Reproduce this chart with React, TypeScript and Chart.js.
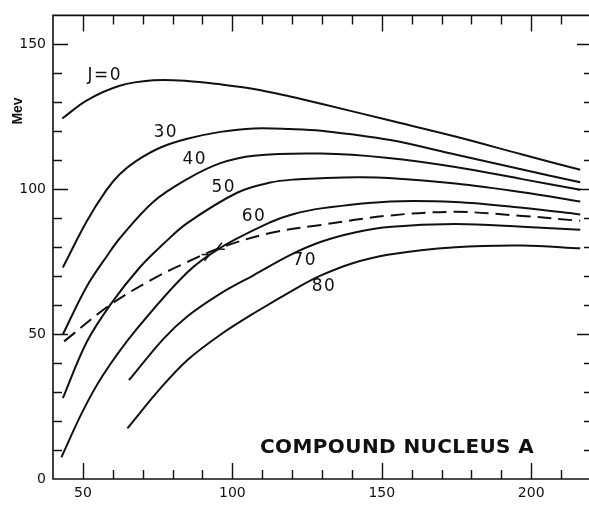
import React, { useEffect, useRef } from 'react';
import { Chart, registerables } from 'chart.js';

Chart.register(...registerables);

// Axis tick labels
const xTickLabels = [50, 100, 150, 200];
const yTickLabels = [0, 50, 100, 150];

// Curves: compound nucleus A (x) vs energy in Mev (y)
const j0A = [43.1, 51.2, 62.3, 73.5, 84.9, 96, 107.2, 119.3, 129.7, 152.8, 174.6, 197, 216.4];
const j0E = [124.4, 130.6, 135.7, 137.6, 137.4, 136.2, 134.6, 132.0, 129.5, 123.7, 118.2, 112.0, 106.7];

const j30A = [43.3, 51.2, 57.8, 62.3, 67.9, 76, 84.9, 96, 107.2, 119.3, 129.7, 152.8, 174.6, 197, 216.4];
const j30E = [73.0, 88.8, 99.6, 105.2, 109.8, 114.4, 117.4, 119.8, 121.0, 120.8, 120.2, 117.0, 112.0, 106.8, 102.4];

const j40A = [43.3, 51.2, 58.4, 62.3, 73.5, 84.9, 96, 107.2, 129.7, 152.2, 174.6, 197, 216.4];
const j40E = [49.9, 66.3, 77.5, 83.0, 95.6, 103.5, 109.0, 111.6, 112.3, 110.8, 107.7, 103.5, 99.8];

const j50A = [43.3, 51.2, 59.5, 69, 76.8, 84.9, 101.6, 112.7, 121, 129.7, 141.7, 152.2, 174.6, 197, 216.4];
const j50E = [27.9, 47.1, 60.6, 73.0, 81.0, 88.3, 98.8, 102.3, 103.4, 103.8, 104.1, 103.9, 102.0, 99.0, 95.8];

const j60A = [42.8, 50, 56.7, 67.9, 84.9, 96, 112.7, 120, 129.7, 152.8, 174.6, 197, 216.4];
const j60E = [7.5, 23.5, 35.8, 51.6, 71.3, 79.8, 88.6, 91.3, 93.4, 95.8, 95.6, 93.6, 91.3];

const dashA = [43.7, 59, 73.5, 83.5, 96, 112.7, 129.7, 152.2, 174.6, 197, 216.4];
const dashE = [47.5, 60.0, 69.1, 74.2, 79.8, 84.9, 87.7, 90.9, 92.2, 90.8, 89.1];

const j70A = [65.4, 76.8, 84.9, 96, 107.2, 119.3, 129.7, 141, 152.2, 174.6, 197, 216.4];
const j70E = [34.1, 48.2, 56.1, 64.0, 70.4, 77.3, 81.9, 85.1, 87.0, 88.0, 87.1, 86.0];

const j80A = [64.9, 75.7, 84.9, 96, 107.2, 122.7, 129.7, 140, 152, 174.6, 197, 216.4];
const j80E = [17.5, 31.0, 41.0, 49.8, 57.2, 66.6, 70.3, 74.4, 77.4, 80.0, 80.6, 79.6];

// Curve labels (anchored in data units)
const curveLabelText = ['J=0', '30', '40', '50', '60', '70', '80'];
const curveLabelA = [57.1, 77.5, 87.2, 96.9, 107.0, 124.0, 130.4];
const curveLabelE = [139.2, 119.5, 110.1, 100.6, 90.4, 75.5, 66.4];

// Arrow tips near the dashed / J=60 crossing (data units) and direction (deg)
const arrowA = [92.4, 94.8];
const arrowE = [77.4, 79.4];
const arrowDir = [-24, 156];

const INK = '#111111';

const series = [
  { name: 'J=0', a: j0A, e: j0E, dash: [] as number[] },
  { name: '30', a: j30A, e: j30E, dash: [] as number[] },
  { name: '40', a: j40A, e: j40E, dash: [] as number[] },
  { name: '50', a: j50A, e: j50E, dash: [] as number[] },
  { name: '60', a: j60A, e: j60E, dash: [] as number[] },
  { name: 'dashed', a: dashA, e: dashE, dash: [14, 7] },
  { name: '70', a: j70A, e: j70E, dash: [] as number[] },
  { name: '80', a: j80A, e: j80E, dash: [] as number[] },
];

const framePlugin = {
  id: 'frame',
  afterDraw(chart: any) {
    const { ctx, chartArea: ca, scales } = chart;
    const xs = scales.x;
    const ys = scales.y;
    ctx.save();
    ctx.strokeStyle = INK;
    ctx.fillStyle = INK;
    ctx.lineWidth = 1.6;
    ctx.lineCap = 'butt';
    // frame: top, left, bottom
    ctx.beginPath();
    ctx.moveTo(ca.right, ca.top);
    ctx.lineTo(ca.left, ca.top);
    ctx.lineTo(ca.left, ca.bottom);
    ctx.lineTo(ca.right, ca.bottom);
    ctx.stroke();

    // inward ticks on x (bottom & top)
    ctx.lineWidth = 1.4;
    ctx.beginPath();
    for (let v = 50; v < 220; v += 10) {
      const px = Math.round(xs.getPixelForValue(v)) + 0.5;
      const major = v % 50 === 0;
      const len = major ? 16 : 9;
      ctx.moveTo(px, ca.bottom);
      ctx.lineTo(px, ca.bottom - len);
      ctx.moveTo(px, ca.top);
      ctx.lineTo(px, ca.top + len);
    }
    // inward ticks on y (left & right)
    for (let v = 10; v < 160; v += 10) {
      const py = Math.round(ys.getPixelForValue(v)) + 0.5;
      const major = v % 50 === 0;
      ctx.moveTo(ca.left, py);
      ctx.lineTo(ca.left + (major ? 15 : 9), py);
      ctx.moveTo(ca.right, py);
      ctx.lineTo(ca.right - (major ? 14 : 7), py);
    }
    ctx.stroke();

    // y-axis title
    ctx.save();
    ctx.translate(18, 111);
    ctx.rotate(-Math.PI / 2);
    ctx.font = 'bold 14px "Liberation Sans"';
    ctx.textAlign = 'center';
    ctx.textBaseline = 'middle';
    ctx.fillText('Mev', 0, 0);
    ctx.restore();

    // curve labels
    ctx.font = '17px "DejaVu Sans"';
    (ctx as any).letterSpacing = '1.5px';
    ctx.textAlign = 'center';
    ctx.textBaseline = 'middle';
    for (let i = 0; i < curveLabelText.length; i++) {
      const px = xs.getPixelForValue(curveLabelA[i]);
      const py = ys.getPixelForValue(curveLabelE[i]);
      ctx.fillText(curveLabelText[i], px + 0.75, py);
    }

    // x-axis title inside the plot
    ctx.font = 'bold 20px "DejaVu Sans"';
    (ctx as any).letterSpacing = '0.4px';
    ctx.textAlign = 'left';
    ctx.textBaseline = 'alphabetic';
    ctx.fillText('COMPOUND NUCLEUS A', 260, 453);
    (ctx as any).letterSpacing = '0px';

    // small arrowheads at the crossing
    ctx.lineWidth = 1.5;
    for (let i = 0; i < arrowA.length; i++) {
      const tx = xs.getPixelForValue(arrowA[i]);
      const ty = ys.getPixelForValue(arrowE[i]);
      const ang = (arrowDir[i] * Math.PI) / 180;
      const L = 8;
      ctx.beginPath();
      ctx.moveTo(tx - L * Math.cos(ang - 0.45), ty - L * Math.sin(ang - 0.45));
      ctx.lineTo(tx, ty);
      ctx.lineTo(tx - L * Math.cos(ang + 0.45), ty - L * Math.sin(ang + 0.45));
      ctx.stroke();
    }
    ctx.restore();
  },
};

export default function App() {
  const ref = useRef<HTMLCanvasElement>(null);
  useEffect(() => {
    if (!ref.current) return;
    const chart = new Chart(ref.current, {
      type: 'line',
      data: {
        datasets: series.map((s) => ({
          label: s.name,
          data: s.a.map((v, i) => ({ x: v, y: s.e[i] })),
          borderColor: INK,
          borderWidth: 2,
          borderDash: s.dash,
          pointRadius: 0,
          fill: false,
          tension: 0.35,
        })),
      },
      options: {
        responsive: false,
        animation: false,
        layout: { padding: { top: 6, right: 1, left: 0, bottom: 0 } },
        plugins: { legend: { display: false }, tooltip: { enabled: false } },
        scales: {
          x: {
            type: 'linear',
            min: 40,
            max: 220,
            grid: { display: false, drawTicks: false },
            border: { display: false },
            afterBuildTicks: (s: any) => {
              s.ticks = xTickLabels.map((v) => ({ value: v }));
            },
            afterFit: (s: any) => {
              s.height = 27;
            },
            ticks: {
              autoSkip: false,
              maxRotation: 0,
              padding: 6,
              color: INK,
              font: { family: 'DejaVu Sans', size: 14 },
            },
          },
          y: {
            type: 'linear',
            min: 0,
            max: 160,
            grid: { display: false, drawTicks: false },
            border: { display: false },
            afterBuildTicks: (s: any) => {
              s.ticks = yTickLabels.map((v) => ({ value: v }));
            },
            afterFit: (s: any) => {
              s.width = 53;
            },
            ticks: {
              padding: 7,
              color: INK,
              font: { family: 'DejaVu Sans', size: 14 },
            },
          },
        },
      },
      plugins: [framePlugin],
    } as any);
    return () => chart.destroy();
  }, []);
  return (
    <div
      style={{
        position: 'fixed',
        left: 0,
        top: 0,
        width: 589,
        height: 506,
        overflow: 'hidden',
        background: '#fff',
      }}
    >
      <canvas ref={ref} width={592} height={506} style={{ display: 'block' }} />
    </div>
  );
}
